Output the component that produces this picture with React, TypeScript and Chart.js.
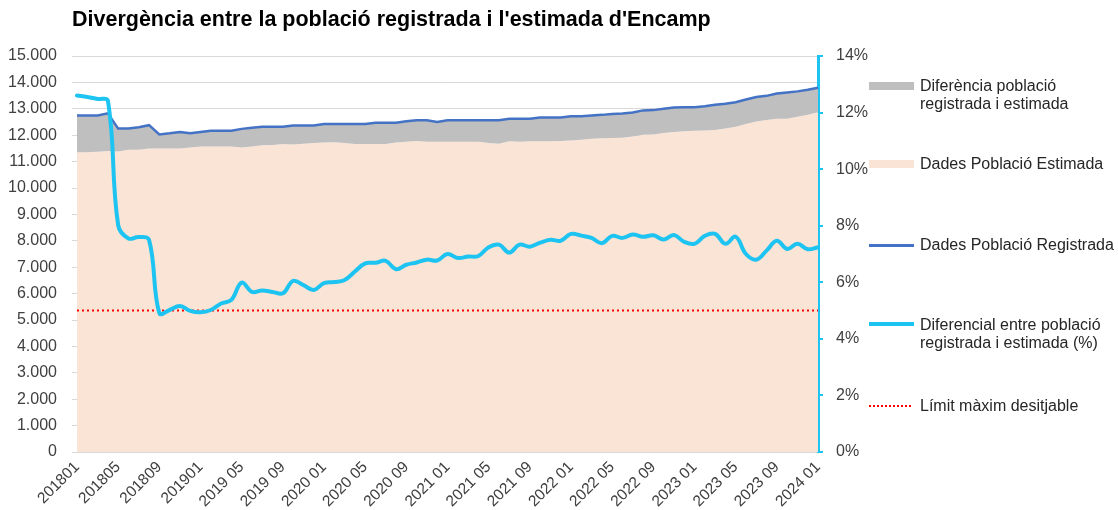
import React, { useEffect, useRef } from 'react';
import { Chart, registerables } from 'chart.js';

Chart.register(...registerables);

const MONTHS = [
  '201801', '201802', '201803', '201804', '201805', '201806', '201807', '201808', '201809', '201810', '201811', '201812',
  '201901', '201902', '201903', '201904', '2019 05', '2019 06', '2019 07', '2019 08', '2019 09', '2019 10', '2019 11', '2019 12',
  '2020 01', '2020 02', '2020 03', '2020 04', '2020 05', '2020 06', '2020 07', '2020 08', '2020 09', '2020 10', '2020 11', '2020 12',
  '2021 01', '2021 02', '2021 03', '2021 04', '2021 05', '2021 06', '2021 07', '2021 08', '2021 09', '2021 10', '2021 11', '2021 12',
  '2022 01', '2022 02', '2022 03', '2022 04', '2022 05', '2022 06', '2022 07', '2022 08', '2022 09', '2022 10', '2022 11', '2022 12',
  '2023 01', '2023 02', '2023 03', '2023 04', '2023 05', '2023 06', '2023 07', '2023 08', '2023 09', '2023 10', '2023 11', '2023 12',
  '2024 01',
];

const REGISTERED = [
  12750, 12750, 12750, 12830, 12250, 12250, 12300, 12380, 12030, 12070, 12120, 12070,
  12120, 12170, 12170, 12170, 12240, 12280, 12320, 12320, 12320, 12370, 12370, 12370,
  12420, 12420, 12420, 12420, 12420, 12470, 12470, 12470, 12530, 12570, 12570, 12500,
  12570, 12570, 12570, 12570, 12570, 12570, 12620, 12620, 12620, 12670, 12670, 12670,
  12720, 12720, 12750, 12770, 12800, 12820, 12860, 12940, 12950, 13000, 13050, 13060,
  13060, 13100, 13150, 13190, 13250, 13350, 13450, 13490, 13580, 13620, 13660, 13720,
  13800,
];

const ESTIMATED = [
  11350, 11350, 11370, 11400, 11380, 11450, 11450, 11500, 11500, 11500, 11500, 11530,
  11570, 11570, 11570, 11570, 11530, 11570, 11620, 11630, 11670, 11650, 11680, 11700,
  11720, 11730, 11700, 11670, 11670, 11670, 11670, 11720, 11750, 11780, 11750, 11750,
  11750, 11750, 11750, 11750, 11700, 11680, 11770, 11750, 11770, 11770, 11770, 11780,
  11800, 11830, 11870, 11880, 11890, 11900, 11950, 12020, 12030, 12080, 12120, 12150,
  12170, 12180, 12200, 12250, 12320, 12420, 12520, 12580, 12620, 12620, 12700, 12770,
  12870,
];

const DIFF_PCT = [
  12.6, 12.55, 12.48, 12.42, 8.02, 7.55, 7.6, 7.5, 4.91, 5.02, 5.16, 4.99,
  4.94, 5.02, 5.25, 5.38, 5.99, 5.66, 5.71, 5.66, 5.61, 6.05, 5.9, 5.73,
  5.97, 6.01, 6.08, 6.38, 6.67, 6.69, 6.76, 6.46, 6.62, 6.7, 6.8, 6.77,
  7.0, 6.86, 6.91, 6.93, 7.24, 7.33, 7.05, 7.33, 7.26, 7.4, 7.5, 7.47,
  7.71, 7.65, 7.57, 7.38, 7.64, 7.57, 7.69, 7.61, 7.66, 7.51, 7.67, 7.43,
  7.36, 7.64, 7.71, 7.36, 7.61, 7.0, 6.8, 7.12, 7.47, 7.18, 7.36, 7.17,
  7.24,
];

const LIMIT_PCT = 5;

const TITLE = "Divergència entre la població registrada i l'estimada d'Encamp";
const SERIES_NAMES = [
  'Diferència població registrada i estimada',
  'Dades Població Estimada',
  'Dades Població Registrada',
  'Diferencial entre població registrada i estimada (%)',
  'Límit màxim desitjable',
];

const FONT = '"Liberation Sans", Arial, sans-serif';
const PEACH = '#FAE4D6';
const GREY = '#BFBFBF';
const BLUE = '#4472C4';
const CYAN = '#1EC4F1';
const RED = '#FF0000';
const TICK_COLOR = '#404040';

function fmtThousands(v: number): string {
  return String(Math.round(v)).replace(/\B(?=(\d{3})+(?!\d))/g, '.');
}

export default function App() {
  const ref = useRef<HTMLCanvasElement | null>(null);

  useEffect(() => {
    if (!ref.current) return;
    const chart = new Chart(ref.current, {
      type: 'line',
      data: {
        labels: MONTHS,
        datasets: [
          {
            label: SERIES_NAMES[1],
            data: ESTIMATED,
            yAxisID: 'y',
            backgroundColor: PEACH,
            borderWidth: 0,
            borderColor: 'rgba(0,0,0,0)',
            fill: 'origin',
            pointRadius: 0,
            tension: 0,
            order: 5,
          },
          {
            label: SERIES_NAMES[0],
            data: REGISTERED,
            yAxisID: 'y',
            backgroundColor: GREY,
            borderWidth: 0,
            borderColor: 'rgba(0,0,0,0)',
            fill: '-1',
            pointRadius: 0,
            tension: 0,
            order: 4,
          },
          {
            label: SERIES_NAMES[2],
            data: REGISTERED,
            yAxisID: 'y',
            borderColor: BLUE,
            borderWidth: 2.5,
            fill: false,
            pointRadius: 0,
            tension: 0,
            order: 3,
          },
          {
            label: SERIES_NAMES[4],
            data: MONTHS.map(() => LIMIT_PCT),
            yAxisID: 'y1',
            borderColor: RED,
            borderWidth: 2,
            borderDash: [2, 3],
            fill: false,
            pointRadius: 0,
            order: 2,
          },
          {
            label: SERIES_NAMES[3],
            data: DIFF_PCT,
            yAxisID: 'y1',
            borderColor: CYAN,
            borderWidth: 4,
            fill: false,
            pointRadius: 0,
            tension: 0.4,
            borderCapStyle: 'round',
            borderJoinStyle: 'round',
            order: 1,
          },
        ],
      },
      options: {
        responsive: false,
        animation: false,
        events: [],
        layout: { padding: { top: 56, right: 240, bottom: 0, left: 0 } },
        plugins: {
          legend: { display: false },
          title: { display: false },
          tooltip: { enabled: false },
        },
        scales: {
          x: {
            type: 'category',
            offset: false,
            grid: { display: false, drawTicks: false },
            border: { display: true, color: '#D9D9D9', width: 1 },
            ticks: {
              autoSkip: false,
              maxRotation: 45,
              minRotation: 45,
              padding: 6,
              color: TICK_COLOR,
              font: { family: FONT, size: 15.5 },
              callback: (_v: any, i: number) => (i % 4 === 0 ? MONTHS[i] : null),
            },
            afterFit: (s: any) => { s.height = 58; },
          },
          y: {
            position: 'left',
            min: 0,
            max: 15000,
            grid: { color: '#D9D9D9', lineWidth: 1, tickLength: 5, drawTicks: true },
            border: { display: false },
            ticks: {
              stepSize: 1000,
              padding: 15,
              color: TICK_COLOR,
              font: { family: FONT, size: 16 },
              callback: (v: any) => fmtThousands(Number(v)),
            },
            afterFit: (s: any) => { s.width = 77; },
          },
          y1: {
            position: 'right',
            min: 0,
            max: 14,
            grid: { drawOnChartArea: false, color: CYAN, lineWidth: 2, tickLength: 5, drawTicks: true },
            border: { display: true, color: CYAN, width: 3 },
            ticks: {
              stepSize: 2,
              padding: 13,
              color: TICK_COLOR,
              font: { family: FONT, size: 16 },
              callback: (v: any) => `${v}%`,
            },
            afterFit: (s: any) => { s.width = 60; },
          },
        },
      },
    } as any);
    return () => chart.destroy();
  }, []);

  const textStyle: React.CSSProperties = {
    position: 'absolute',
    left: 920,
    fontFamily: FONT,
    fontSize: 16,
    lineHeight: '17.5px',
    color: '#262626',
    whiteSpace: 'nowrap',
  };

  return (
    <div style={{ position: 'absolute', left: 0, top: 0, width: 1118, height: 510, background: '#fff', overflow: 'hidden' }}>
      <canvas ref={ref} width={1118} height={510} style={{ position: 'absolute', left: 0, top: 0 }} />
      <div style={{ position: 'absolute', left: 72, top: 7, fontFamily: FONT, fontWeight: 'bold', fontSize: 21.5, color: '#000', whiteSpace: 'nowrap' }}>
        {TITLE}
      </div>
      <div style={{ position: 'absolute', left: 869, top: 82, width: 45, height: 8, background: GREY }} />
      <div style={{ ...textStyle, top: 77 }}>Diferència població<br />registrada i estimada</div>
      <div style={{ position: 'absolute', left: 869, top: 160, width: 45, height: 8, background: PEACH }} />
      <div style={{ ...textStyle, top: 155 }}>{SERIES_NAMES[1]}</div>
      <div style={{ position: 'absolute', left: 869, top: 244, width: 45, height: 2.5, background: BLUE }} />
      <div style={{ ...textStyle, top: 236 }}>{SERIES_NAMES[2]}</div>
      <div style={{ position: 'absolute', left: 869, top: 322, width: 45, height: 4, background: CYAN }} />
      <div style={{ ...textStyle, top: 316 }}>Diferencial entre població<br />registrada i estimada (%)</div>
      <div style={{ position: 'absolute', left: 869, top: 405, width: 42, height: 0, borderTop: `2px dotted ${RED}` }} />
      <div style={{ ...textStyle, top: 397 }}>{SERIES_NAMES[4]}</div>
    </div>
  );
}
